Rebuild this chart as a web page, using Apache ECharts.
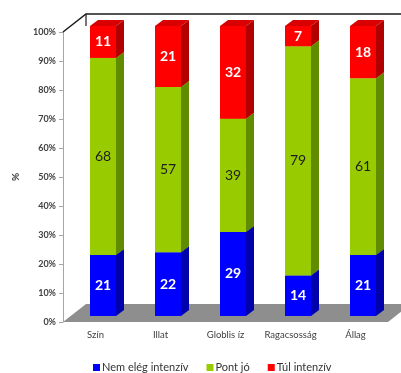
<!DOCTYPE html>
<html>
<head>
<meta charset="utf-8">
<script src="https://cdn.jsdelivr.net/npm/echarts@6/dist/echarts.min.js"></script>
<style>
  html, body { margin: 0; padding: 0; background: #fff; }
  #chart { width: 401px; height: 373px; }
</style>
</head>
<body>
<div id="chart"></div>
<script>
// Sensory attributes and the share (%) of ratings in each intensity class
const categories = ['Szín', 'Illat', 'Globlis íz', 'Ragacsosság', 'Állag'];
const seriesNames = ['Nem elég intenzív', 'Pont jó', 'Túl intenzív'];
const notEnough = [21, 22, 29, 14, 21];
const justRight = [68, 57, 39, 79, 61];
const tooMuch = [11, 21, 32, 7, 18];
const yTicks = [0, 10, 20, 30, 40, 50, 60, 70, 80, 90, 100];

const FONT = 'Lato, "Open Sans", sans-serif';

// Pseudo-3D geometry: wall depth offset, bar position in depth and bar depth
const WALL_DX = 23, WALL_DY = -18;
const BAR_SHIFT_X = 7.5, BAR_SHIFT_Y = -6;
const BAR_DX = 8, BAR_DY = -6;

const palettes = [
  { front: '#0000ff', side: '#0000ac', top: '#0000d8', label: '#ffffff', weight: 'bold' },
  { front: '#99cc00', side: '#618c00', top: '#85b300', label: '#1e1e1e', weight: 'normal' },
  { front: '#ff0000', side: '#b20000', top: '#d80000', label: '#ffffff', weight: 'bold' }
];

// Stack the layers: each item is [categoryIndex, base, top, value]
const layers = [notEnough, justRight, tooMuch];
const stacked = [];
const running = categories.map(() => 0);
layers.forEach((vals, s) => {
  stacked.push(vals.map((v, i) => {
    const base = running[i];
    running[i] += v;
    return [i, base, running[i], v];
  }));
});

function boxRenderer(pal) {
  return function (params, api) {
    const i = api.value(0);
    const pBase = api.coord([i, api.value(1)]);
    const pTop = api.coord([i, api.value(2)]);
    const w = api.size([1, 0])[0] * 0.4;
    const x0 = pBase[0] - w / 2 + BAR_SHIFT_X;
    const x1 = x0 + w;
    const yb = pBase[1] + BAR_SHIFT_Y;
    const yt = pTop[1] + BAR_SHIFT_Y;
    return {
      type: 'group',
      children: [
        { type: 'polygon', shape: { points: [[x1, yb], [x1 + BAR_DX, yb + BAR_DY], [x1 + BAR_DX, yt + BAR_DY], [x1, yt]] },
          style: { fill: pal.side } },
        { type: 'polygon', shape: { points: [[x0, yt], [x1, yt], [x1 + BAR_DX, yt + BAR_DY], [x0 + BAR_DX, yt + BAR_DY]] },
          style: { fill: pal.top } },
        { type: 'rect', shape: { x: x0, y: yt, width: w, height: yb - yt },
          style: { fill: pal.front } },
        { type: 'text', style: {
            text: String(api.value(3)), x: (x0 + x1) / 2, y: (yt + yb) / 2,
            align: 'center', verticalAlign: 'middle',
            fill: pal.label, fontSize: 14, fontWeight: pal.weight, fontFamily: FONT } }
      ]
    };
  };
}

// Floor and wall edges of the 3D frame, built from the grid rectangle
function frameRenderer(params, api) {
  const cs = params.coordSys;
  const xl = cs.x, xr = cs.x + cs.width;
  const yt = cs.y, yb = cs.y + cs.height;
  return {
    type: 'group',
    children: [
      { type: 'polygon', shape: { points: [[xl, yb], [xr, yb], [xr + WALL_DX, yb + WALL_DY], [xl + WALL_DX, yb + WALL_DY]] },
        style: { fill: '#8e8e8e' } },
      { type: 'polyline', shape: { points: [[xl, yt], [xl + WALL_DX, yt + WALL_DY], [xr + WALL_DX, yt + WALL_DY]] },
        style: { stroke: '#1a1a1a', lineWidth: 1.5, fill: null } },
      { type: 'line', shape: { x1: xl + WALL_DX, y1: yt + WALL_DY, x2: xl + WALL_DX, y2: yt + WALL_DY + 12 },
        style: { stroke: '#1a1a1a', lineWidth: 1.2 } }
    ]
  };
}

const chart = echarts.init(document.getElementById('chart'), null, { renderer: 'canvas' });

const series = [{
  type: 'custom',
  name: 'frame',
  silent: true,
  clip: false,
  z: 1,
  renderItem: frameRenderer,
  data: [[0]]
}];
seriesNames.forEach((name, s) => {
  series.push({
    type: 'custom',
    name: name,
    clip: false,
    z: 2 + s,
    itemStyle: { color: palettes[s].front },
    renderItem: boxRenderer(palettes[s]),
    encode: { x: 0, y: [1, 2] },
    data: stacked[s]
  });
});

chart.setOption({
  animation: false,
  color: palettes.map(p => p.front),
  grid: { left: 63, right: 13, top: 32, bottom: 51, containLabel: false },
  legend: {
    data: seriesNames,
    left: 88,
    top: 357,
    itemWidth: 7,
    itemHeight: 7,
    itemGap: 18,
    icon: 'rect',
    textStyle: { fontSize: 11, color: '#333333', fontFamily: FONT, padding: [0, 0, 0, -3] }
  },
  xAxis: {
    type: 'category',
    data: categories,
    axisLine: { show: false },
    axisTick: { show: false },
    axisLabel: { margin: 8, fontSize: 9.5, color: '#404040', fontFamily: FONT, interval: 0 }
  },
  yAxis: {
    type: 'value',
    min: yTicks[0],
    max: yTicks[yTicks.length - 1],
    interval: yTicks[1] - yTicks[0],
    name: '%',
    nameLocation: 'middle',
    nameGap: 42,
    nameRotate: 90,
    nameTextStyle: { fontSize: 10, fontWeight: 'bold', color: '#404040', fontFamily: FONT },
    axisLine: { show: true, lineStyle: { color: '#a6a6a6', width: 1 } },
    axisTick: { show: true, length: 4, lineStyle: { color: '#a6a6a6' } },
    splitLine: { show: false },
    axisLabel: { formatter: '{value}%', fontSize: 9, fontWeight: 'bold', color: '#404040', fontFamily: FONT, margin: 7 }
  },
  series: series
});
</script>
</body>
</html>
